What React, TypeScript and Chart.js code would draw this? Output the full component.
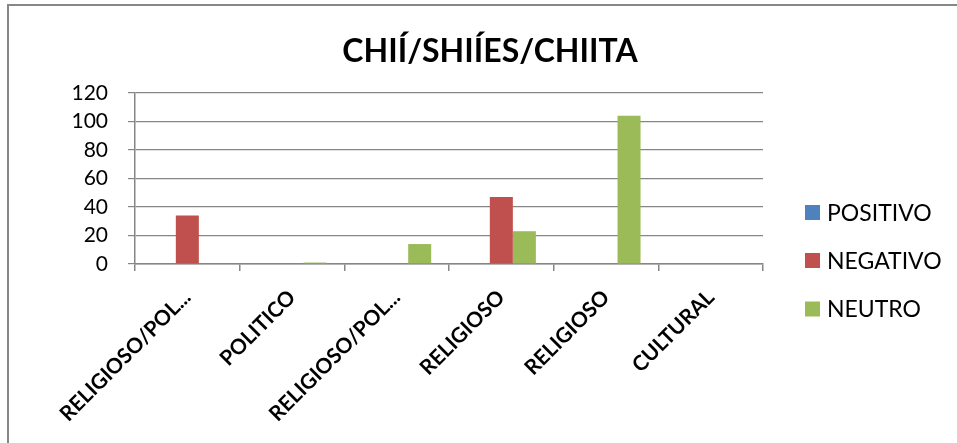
import React, { useEffect, useRef } from 'react';
import { Chart, registerables } from 'chart.js';

Chart.register(...registerables);

const TITLE = 'CHIÍ/SHIÍES/CHIITA';
const categories = ['RELIGIOSO/POL...', 'POLITICO', 'RELIGIOSO/POL...', 'RELIGIOSO', 'RELIGIOSO', 'CULTURAL'];
const seriesNames = ['POSITIVO', 'NEGATIVO', 'NEUTRO'];
const positivo = [0, 0, 0, 0, 0, 0];
const negativo = [34, 0, 0, 47, 0, 0];
const neutro = [0, 1, 14, 23, 104, 0];
const yTickValues = [0, 20, 40, 60, 80, 100, 120];
const seriesColors = ['#4F81BD', '#C0504D', '#9BBB59'];

const GRID = '#868686';
const FONT = 'Lato';

const legendPlugin = {
  id: 'sideLegend',
  afterDraw(chart: any) {
    const ctx = chart.ctx;
    const ys = [212.5, 260.5, 309];
    ctx.save();
    ctx.font = `23px ${FONT}`;
    ctx.textBaseline = 'middle';
    ctx.textAlign = 'left';
    chart.data.datasets.forEach((ds: any, i: number) => {
      const y = ys[i];
      ctx.fillStyle = ds.backgroundColor;
      ctx.fillRect(805, y - 7.5, 15, 15);
      ctx.fillStyle = '#000';
      ctx.fillText(ds.label, 827, y + 1);
    });
    ctx.restore();
  },
};

export default function App() {
  const canvasRef = useRef<HTMLCanvasElement | null>(null);

  useEffect(() => {
    let chart: Chart | null = null;
    let cancelled = false;
    const make = () => {
      if (cancelled || !canvasRef.current) return;
      const data = [positivo, negativo, neutro];
      chart = new Chart(canvasRef.current, {
        type: 'bar',
        data: {
          labels: categories,
          datasets: seriesNames.map((name, i) => ({
            label: name,
            data: data[i],
            backgroundColor: seriesColors[i],
            borderWidth: 0,
            categoryPercentage: 0.66,
            barPercentage: 1,
          })),
        },
        options: {
          responsive: false,
          animation: false,
          devicePixelRatio: 1,
          layout: { padding: { left: 23, right: 0, top: 0, bottom: 0 } },
          plugins: {
            legend: { display: false },
            tooltip: { enabled: false },
            title: {
              display: true,
              text: TITLE,
              color: '#000',
              font: { family: FONT, size: 32, weight: 'bold', lineHeight: 1.2 },
              padding: { top: 32, bottom: 22.6 },
            },
          },
          scales: {
            x: {
              grid: {
                display: true,
                drawOnChartArea: false,
                drawTicks: true,
                tickLength: 7,
                color: GRID,
                lineWidth: 1.5,
                offset: true,
              },
              border: { display: true, color: GRID, width: 1.5 },
              ticks: {
                minRotation: 45,
                maxRotation: 45,
                autoSkip: false,
                color: '#000',
                font: { family: FONT, size: 21, weight: 'bold' },
                padding: 14,
              },
              afterFit: (s: any) => {
                s.height = 179;
              },
            },
            y: {
              min: 0,
              max: 120,
              afterBuildTicks: (s: any) => {
                s.ticks = yTickValues.map((v) => ({ value: v }));
              },
              grid: { color: GRID, tickLength: 7, lineWidth: 1.2 },
              border: { color: GRID, width: 1.5 },
              ticks: { color: '#000', font: { family: FONT, size: 21 }, padding: 20 },
              afterFit: (s: any) => {
                s.width = 112;
              },
            },
            spacer: {
              type: 'linear',
              position: 'right',
              display: true,
              grid: { display: false, drawTicks: false },
              border: { display: false },
              ticks: { display: false },
              afterFit: (s: any) => {
                s.width = 194;
              },
            },
          },
        } as any,
        plugins: [legendPlugin],
      });
    };
    const fonts = (document as any).fonts;
    if (fonts && fonts.load) {
      Promise.all([
        fonts.load(`21px ${FONT}`),
        fonts.load(`bold 32px ${FONT}`),
      ]).then(make, make);
    } else {
      make();
    }
    return () => {
      cancelled = true;
      if (chart) chart.destroy();
    };
  }, []);

  return (
    <div style={{ position: 'fixed', left: 0, top: 0, width: 957, height: 443, overflow: 'hidden', background: '#fff' }}>
      <div
        style={{
          position: 'absolute',
          left: 7,
          top: 4,
          width: 1100,
          height: 1100,
          border: '2px solid #878787',
          boxSizing: 'border-box',
        }}
      />
      <canvas ref={canvasRef} width={957} height={443} style={{ position: 'absolute', left: 0, top: 0 }} />
    </div>
  );
}
